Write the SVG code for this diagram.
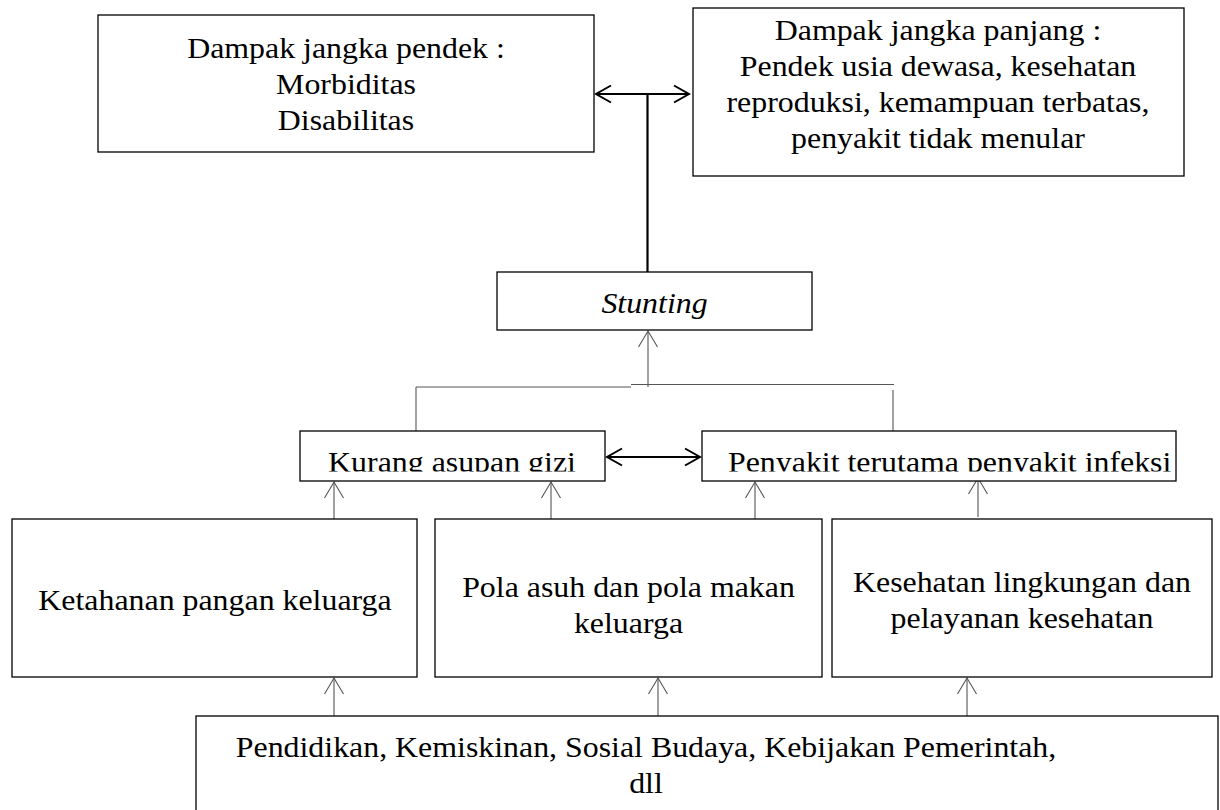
<svg xmlns="http://www.w3.org/2000/svg" width="1220" height="810" viewBox="0 0 1220 810">
  <style>
    .box { fill: #fff; stroke: #000; stroke-width: 1.3; }
    .t { font-family: "Liberation Serif", "Times New Roman", serif; font-size: 30px; fill: #000; text-anchor: middle; }
    .ts { text-anchor: start; }
    .it { font-style: italic; }
    .thin { stroke: #555; stroke-width: 1.1; fill: none; }
    .thick { stroke: #000; stroke-width: 2.2; fill: none; }
  </style>
  <defs>
    <marker id="ahThin" markerUnits="userSpaceOnUse" markerWidth="20" markerHeight="22" viewBox="-18 -11 20 22" refX="0" refY="0" orient="auto-start-reverse">
      <path d="M-16,-9.5 L0,0 L-16,9.5" fill="none" stroke="#555" stroke-width="1.1"/>
    </marker>
    <marker id="ahThick" markerUnits="userSpaceOnUse" markerWidth="20" markerHeight="22" viewBox="-18 -11 20 22" refX="0" refY="0" orient="auto-start-reverse">
      <path d="M-15,-8.5 L0,0 L-15,8.5" fill="none" stroke="#000" stroke-width="2"/>
    </marker>
    <clipPath id="clipKurang"><rect x="300" y="430" width="306" height="41.5"/></clipPath>
    <clipPath id="clipPenyakit"><rect x="702" y="430" width="476" height="41.5"/></clipPath>
  </defs>

  <rect width="1220" height="810" fill="#fff"/>

  <g id="connectors">
    <line class="thick" x1="596" y1="94" x2="689" y2="94" marker-start="url(#ahThick)" marker-end="url(#ahThick)"/>
    <line class="thick" x1="647.5" y1="94" x2="647.5" y2="272"/>
    <line class="thin" x1="416" y1="387" x2="631" y2="387"/>
    <line class="thin" x1="631" y1="384.5" x2="894" y2="384.5"/>
    <line class="thin" x1="648" y1="387" x2="648" y2="331" marker-end="url(#ahThin)"/>
    <line class="thin" x1="416" y1="387" x2="416" y2="431"/>
    <line class="thin" x1="893" y1="390" x2="893" y2="431"/>
    <line class="thick" x1="607" y1="457" x2="700" y2="457" marker-start="url(#ahThick)" marker-end="url(#ahThick)"/>
    <line class="thin" x1="334" y1="519" x2="334" y2="482" marker-end="url(#ahThin)"/>
    <line class="thin" x1="551" y1="519" x2="551" y2="482" marker-end="url(#ahThin)"/>
    <line class="thin" x1="755" y1="519" x2="755" y2="482" marker-end="url(#ahThin)"/>
    <line class="thin" x1="978" y1="517" x2="978" y2="478" marker-end="url(#ahThin)"/>
    <line class="thin" x1="334" y1="716" x2="334" y2="678" marker-end="url(#ahThin)"/>
    <line class="thin" x1="658" y1="716" x2="658" y2="678" marker-end="url(#ahThin)"/>
    <line class="thin" x1="967" y1="716" x2="967" y2="678" marker-end="url(#ahThin)"/>
  </g>

  <g id="node-short-term">
    <rect class="box" x="98" y="15" width="496" height="137"/>
    <text class="t" transform="translate(346 58) scale(1.063 1)">Dampak jangka pendek :</text>
    <text class="t" transform="translate(346 94) scale(1.063 1)">Morbiditas</text>
    <text class="t" transform="translate(346 130) scale(1.063 1)">Disabilitas</text>
  </g>

  <g id="node-long-term">
    <rect class="box" x="693" y="8" width="491" height="168"/>
    <text class="t" transform="translate(938 40) scale(1.063 1)">Dampak jangka panjang :</text>
    <text class="t" transform="translate(938 76) scale(1.063 1)">Pendek usia dewasa, kesehatan</text>
    <text class="t" transform="translate(938 112) scale(1.063 1)">reproduksi, kemampuan terbatas,</text>
    <text class="t" transform="translate(938 148) scale(1.063 1)">penyakit tidak menular</text>
  </g>

  <g id="node-stunting">
    <rect class="box" x="497" y="272" width="315" height="58"/>
    <text class="t it" transform="translate(654.5 313) scale(1.063 1)">Stunting</text>
  </g>

  <g id="node-kurang-gizi">
    <rect class="box" x="300" y="431" width="305" height="50"/>
    <g clip-path="url(#clipKurang)">
      <text class="t" transform="translate(452 472) scale(1.063 1)">Kurang asupan gizi</text>
    </g>
  </g>

  <g id="node-penyakit">
    <rect class="box" x="702" y="431" width="474" height="50"/>
    <g clip-path="url(#clipPenyakit)">
      <text class="t ts" transform="translate(728 472) scale(1.063 1)">Penyakit terutama penyakit infeksi</text>
    </g>
  </g>

  <g id="node-ketahanan">
    <rect class="box" x="12" y="519" width="405" height="158"/>
    <text class="t" transform="translate(215 610) scale(1.063 1)">Ketahanan pangan keluarga</text>
  </g>

  <g id="node-pola-asuh">
    <rect class="box" x="435" y="519" width="387" height="158"/>
    <text class="t" transform="translate(628.5 597) scale(1.063 1)">Pola asuh dan pola makan</text>
    <text class="t" transform="translate(628.5 633) scale(1.063 1)">keluarga</text>
  </g>

  <g id="node-kesehatan">
    <rect class="box" x="832" y="519" width="380" height="158"/>
    <text class="t" transform="translate(1022 592) scale(1.063 1)">Kesehatan lingkungan dan</text>
    <text class="t" transform="translate(1022 628) scale(1.063 1)">pelayanan kesehatan</text>
  </g>

  <g id="node-bottom">
    <rect class="box" x="196" y="716" width="1022" height="120"/>
    <text class="t" transform="translate(646 757) scale(1.063 1)">Pendidikan, Kemiskinan, Sosial Budaya, Kebijakan Pemerintah,</text>
    <text class="t" transform="translate(646 793) scale(1.063 1)">dll</text>
  </g>
</svg>
